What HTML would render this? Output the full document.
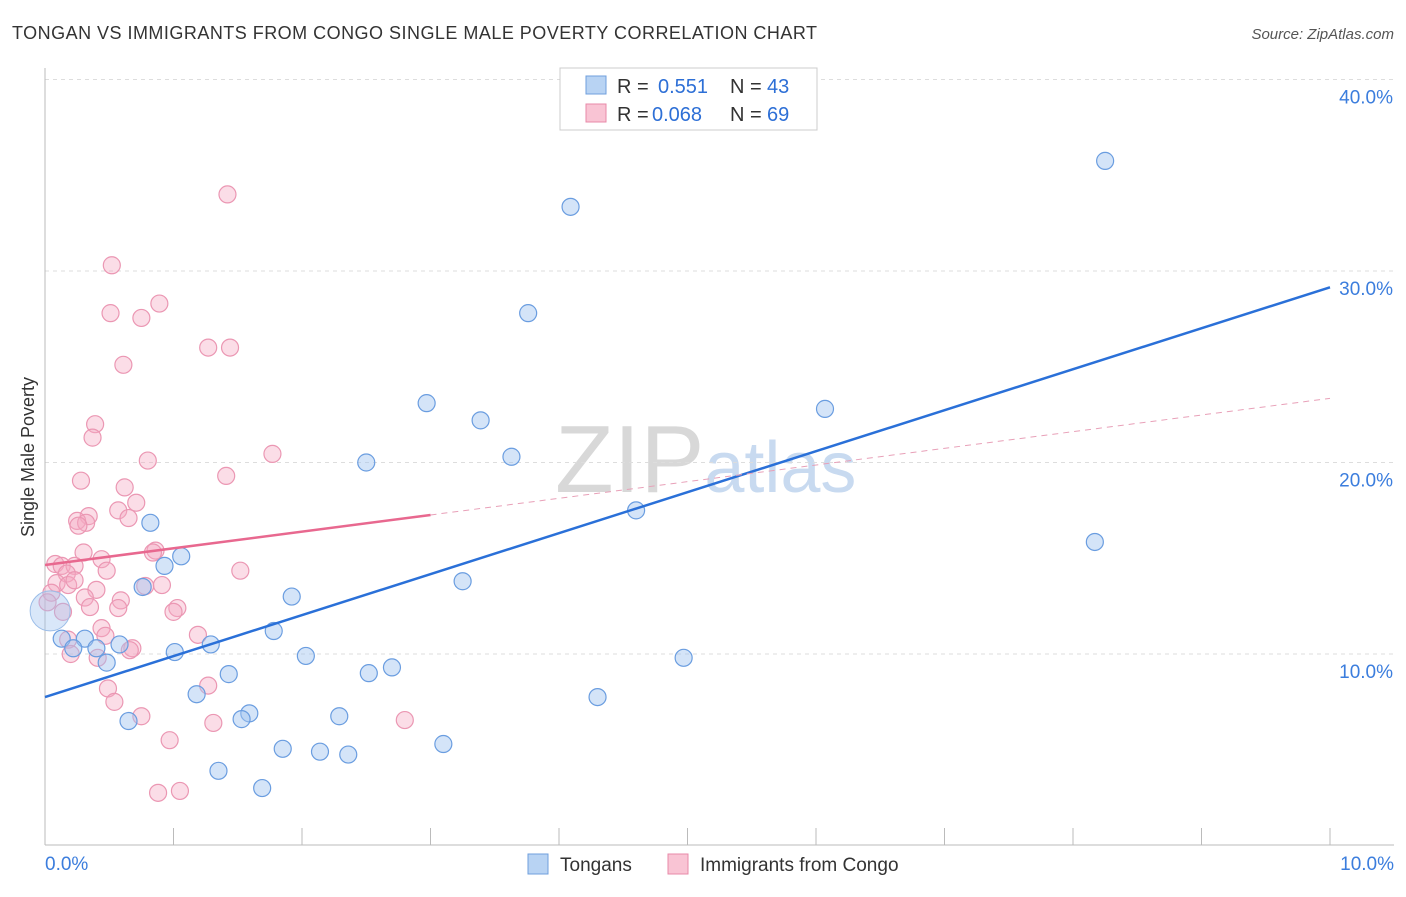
<!DOCTYPE html>
<html><head><meta charset="utf-8"><style>
body{margin:0;background:#fff;font-family:"Liberation Sans",sans-serif}
svg text{font-family:"Liberation Sans",sans-serif}
</style></head><body>
<svg id="c" width="1406" height="892">
<text x="12" y="39" font-size="18" fill="#333" textLength="805">TONGAN VS IMMIGRANTS FROM CONGO SINGLE MALE POVERTY CORRELATION CHART</text>
<text x="1394" y="39" font-size="15" fill="#555" text-anchor="end" font-style="italic">Source: ZipAtlas.com</text>
<text transform="translate(34,457) rotate(-90)" font-size="18" fill="#333" text-anchor="middle">Single Male Poverty</text>
<text x="555" y="492" font-size="96" fill="#d8d8d8" font-family="Liberation Serif">ZIP<tspan fill="#c8daf0" font-family="Liberation Sans" font-size="72">atlas</tspan></text>
<g id="grid"></g><g id="pts"></g><g id="lines"></g>
<g>
<rect x="560" y="68" width="257" height="62" fill="#fff" stroke="#ccc"/>
<rect x="586" y="76" width="20" height="18" fill="#b8d3f3" stroke="#6f9fdc"/>
<rect x="586" y="104" width="20" height="18" fill="#f9c4d4" stroke="#e88aa8"/>
<text x="617" y="93" font-size="20" fill="#333">R = <tspan x="658" fill="#2d6fd6">0.551</tspan><tspan x="730" fill="#333">N = </tspan><tspan x="767" fill="#2d6fd6">43</tspan></text>
<text x="617" y="121" font-size="20" fill="#333">R = <tspan x="652" fill="#2d6fd6">0.068</tspan><tspan x="730" fill="#333">N = </tspan><tspan x="767" fill="#2d6fd6">69</tspan></text>
</g>
<g>
<rect x="528" y="854" width="20" height="20" fill="#b8d3f3" stroke="#6f9fdc"/>
<text x="560" y="871" font-size="19" fill="#333">Tongans</text>
<rect x="668" y="854" width="20" height="20" fill="#f9c4d4" stroke="#e88aa8"/>
<text x="700" y="871" font-size="19" fill="#333">Immigrants from Congo</text>
</g>
</svg>
<script>
const blueX=[8.25,4.09,3.76,2.97,3.39,6.07,3.63,2.50,4.60,8.17,0.82,1.06,0.93,0.76,3.25,1.92,1.78,0.13,0.31,0.58,0.40,0.22,1.29,1.01,0.48,2.03,4.97,2.70,2.52,1.43,1.18,4.30,1.59,1.53,2.29,0.65,1.85,2.14,2.36,3.10,1.35,1.69];
const blueY=[35.75,33.35,27.8,23.1,22.2,22.8,20.3,20.0,17.5,15.85,16.85,15.1,14.6,13.5,13.8,13.0,11.2,10.8,10.8,10.5,10.3,10.3,10.5,10.1,9.55,9.9,9.8,9.3,9.0,8.95,7.9,7.75,6.9,6.6,6.75,6.5,5.05,4.9,4.75,5.3,3.9,3.0];
const pinkX=[1.42,0.52,0.89,0.51,0.75,1.27,1.44,0.61,0.39,0.37,0.80,1.77,1.41,0.28,0.62,0.71,0.57,0.65,0.34,0.25,0.32,0.26,0.86,0.84,0.30,0.08,0.13,0.23,0.44,0.48,1.52,0.17,0.09,0.18,0.23,0.40,0.78,0.91,0.05,0.31,0.02,0.59,0.35,0.57,1.03,1.00,0.14,0.44,0.47,1.19,0.18,0.68,0.66,0.20,0.41,1.27,0.49,0.54,0.75,1.31,2.80,0.97,0.88,1.05];
const pinkY=[34.0,30.3,28.3,27.8,27.55,26.0,26.0,25.1,22.0,21.3,20.1,20.45,19.3,19.05,18.7,17.9,17.5,17.1,17.2,16.95,16.85,16.7,15.4,15.3,15.3,14.7,14.6,14.6,14.95,14.35,14.35,14.2,13.7,13.6,13.85,13.35,13.55,13.6,13.2,12.95,12.7,12.8,12.45,12.4,12.4,12.2,12.2,11.35,10.95,11.0,10.75,10.3,10.2,10.0,9.8,8.35,8.2,7.5,6.75,6.4,6.55,5.5,2.75,2.85];
const yTicks=[10,20,30,40];
const xTicks=[0,1,2,3,4,5,6,7,8,9,10];
const blueFit=[7.75,29.15];
const pinkFit=[14.65,23.35];
const X=v=>45+v*128.5, Y=v=>845.5-v*19.15;
const NS='http://www.w3.org/2000/svg';
function mk(t,a,p){const e=document.createElementNS(NS,t);for(const k in a)e.setAttribute(k,a[k]);p.appendChild(e);return e;}
const g=document.getElementById('grid');
yTicks.forEach(v=>{
 const l=mk('line',{x1:45,x2:1394,y1:Y(v),y2:Y(v),stroke:'#ddd','stroke-dasharray':'4,4'},g);
 
 
 const t=mk('text',{x:1393,y:Y(v)+24,'font-size':19,fill:'#3b7ddd','text-anchor':'end'},g);t.textContent=v.toFixed(1)+'%';
 
 
});
mk('line',{x1:45,x2:45,y1:68,y2:845,stroke:'#bbb'},g);
mk('line',{x1:45,x2:1394,y1:845,y2:845,stroke:'#bbb'},g);
xTicks.forEach(v=>{const l=mk('line',{x1:X(v),x2:X(v),y1:828,y2:845,stroke:'#bbb'},g);
 
 });
[[0,'0.0%',45,'start'],[10,'10.0%',1394,'end']].forEach(d=>{const t=mk('text',{x:d[2],y:870,'font-size':19,fill:'#3b7ddd','text-anchor':d[3]},g);t.textContent=d[1];
 
 });
const p=document.getElementById('pts');
pinkX.forEach((x,i)=>{const c=mk('circle',{cx:X(x),cy:Y(pinkY[i]),r:8.5,fill:'rgba(246,170,195,0.4)',stroke:'#eb97b3','stroke-width':1.2},p);
 
 });
blueX.forEach((x,i)=>{const c=mk('circle',{cx:X(x),cy:Y(blueY[i]),r:8.5,fill:'rgba(160,196,240,0.45)',stroke:'#6a9de0','stroke-width':1.2},p);
 
 });
const big=mk('circle',{cx:X(0.04),cy:Y(12.25),r:20,fill:'rgba(160,196,240,0.4)',stroke:'#9bbde8','stroke-width':1},p);


const L=document.getElementById('lines');
const bl=mk('line',{x1:X(0),y1:Y(blueFit[0]),x2:X(10),y2:Y(blueFit[1]),stroke:'#2a70d8','stroke-width':2.5},L);


const pm=v=>pinkFit[0]+(pinkFit[1]-pinkFit[0])*v/10;
const pl=mk('line',{x1:X(0),y1:Y(pm(0)),x2:X(3),y2:Y(pm(3)),stroke:'#e8688f','stroke-width':2.5},L);


const pd=mk('line',{x1:X(3),y1:Y(pm(3)),x2:X(10),y2:Y(pm(10)),stroke:'#e8a0b8','stroke-width':1,'stroke-dasharray':'6,5'},L);


</script>
</body></html>
